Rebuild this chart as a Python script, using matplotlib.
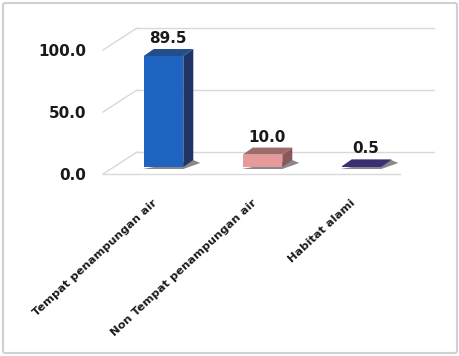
import matplotlib.pyplot as plt
import matplotlib.transforms as mtransforms
from matplotlib.patches import Polygon, FancyBboxPatch
import numpy as np


CATEGORIES = [
    "Tempat penampungan air",
    "Non Tempat penampungan air",
    "Habitat alami",
]

VALUES = [89.5, 10.0, 0.5]

Y_TICKS = [0, 50, 100]

FRONT_COLORS = ["#1E63C0", "#E8999A", "#3B2F72"]
TOP_COLORS = ["#224F8C", "#9E6A6A", "#3B2F72"]
SIDE_COLORS = ["#1F3566", "#8A5858", "#2A2055"]

GRID_COLOR = "#D9D9D9"

# pseudo 3d geometry in pixels
WALL_DX, WALL_DY = 34, 22
BAR_DX, BAR_DY = 11, 7
DEPTH_DX, DEPTH_DY = 10, 7
BAR_WIDTH = 0.4


def add_face(axes, points, color, zorder, alpha=1.0):
    face = Polygon(
        points, closed=True, facecolor=color, alpha=alpha,
        edgecolor="none", transform=mtransforms.IdentityTransform(),
        zorder=zorder, clip_on=False,
    )
    axes.add_artist(face)


def main() -> None:
    figure = plt.figure(figsize=(4.6, 3.56), dpi=100)

    axes = figure.add_axes([103 / 460, 1 - 174 / 356, 297 / 460, 124 / 356])
    axes.set_xlim(-0.5, 2.5)
    axes.set_ylim(0, 100)
    axes.patch.set_visible(False)
    for spine in axes.spines.values():
        spine.set_visible(False)

    positions = np.arange(len(CATEGORIES))

    back = mtransforms.offset_copy(
        axes.transData, figure, x=WALL_DX, y=WALL_DY, units="dots"
    )
    bar_plane = mtransforms.offset_copy(
        axes.transData, figure, x=BAR_DX, y=BAR_DY, units="dots"
    )

    # back wall gridlines and left floor diagonals
    for tick in Y_TICKS:
        axes.plot([-0.5, 2.5], [tick, tick], color=GRID_COLOR,
                  linewidth=1.0, transform=back, clip_on=False)
        start = axes.transData.transform((-0.5, tick))
        axes.plot([start[0], start[0] + WALL_DX],
                  [start[1], start[1] + WALL_DY],
                  color=GRID_COLOR, linewidth=1.0,
                  transform=mtransforms.IdentityTransform(),
                  clip_on=False)
    axes.plot([-0.5, 2.5], [0, 0], color=GRID_COLOR,
              linewidth=1.0, clip_on=False)

    depth = np.array([DEPTH_DX, DEPTH_DY])

    # bar shadows, sides and tops
    for index, value in enumerate(VALUES):
        left = positions[index] - BAR_WIDTH / 2
        right = positions[index] + BAR_WIDTH / 2

        p_lb = bar_plane.transform((left, 0))
        p_rb = bar_plane.transform((right, 0))
        p_lt = bar_plane.transform((left, value))
        p_rt = bar_plane.transform((right, value))

        add_face(axes, [p_lb + [-1, -2], p_rb + [0, -2],
                        p_rb + depth + [7, -3], p_rb + depth],
                 "#3A3A3A", 1, alpha=0.6)
        add_face(axes, [p_rb, p_rt, p_rt + depth, p_rb + depth],
                 SIDE_COLORS[index], 2)
        add_face(axes, [p_lt, p_rt, p_rt + depth, p_lt + depth],
                 TOP_COLORS[index], 3)

    axes.bar(
        positions, VALUES, BAR_WIDTH,
        color=FRONT_COLORS, transform=bar_plane,
        clip_on=False, zorder=4,
    )

    for index, value in enumerate(VALUES):
        axes.annotate(
            f"{value:.1f}",
            xy=(positions[index], value),
            xycoords=bar_plane,
            xytext=(DEPTH_DX / 2 - 1, DEPTH_DY + 3),
            textcoords="offset pixels",
            ha="center", va="bottom",
            fontsize=11, fontweight="bold", color="#1A1A1A",
        )

    axes.set_yticks(Y_TICKS)
    axes.set_yticklabels([f"{tick:.1f}" for tick in Y_TICKS],
                         fontsize=11, fontweight="bold", color="#1A1A1A")
    axes.tick_params(axis="y", length=0, pad=12)

    axes.set_xticks(positions)
    axes.set_xticklabels(CATEGORIES, rotation=43, ha="right",
                         rotation_mode="anchor", fontsize=8.2,
                         fontweight="bold", color="#1A1A1A")
    axes.tick_params(axis="x", length=0, pad=17)

    border = FancyBboxPatch(
        (3 / 460, 3 / 356), 454 / 460, 350 / 356,
        boxstyle="round,pad=0,rounding_size=0.005",
        transform=figure.transFigure, facecolor="none",
        edgecolor="#D0D0D0", linewidth=1.5,
    )
    figure.add_artist(border)

    figure.savefig("out.png", dpi=100)
    plt.close(figure)


if __name__ == "__main__":
    main()
